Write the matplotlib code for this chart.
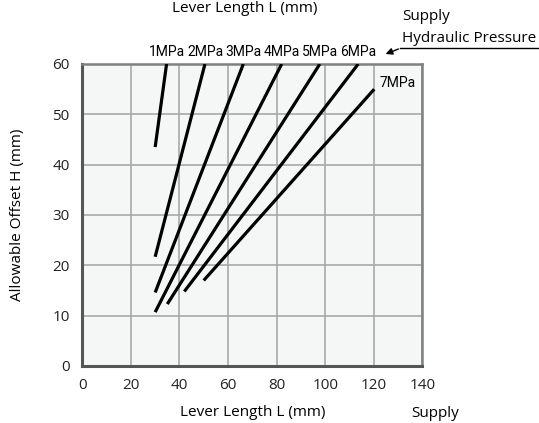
import matplotlib
matplotlib.use("Agg")
import matplotlib.pyplot as plt

plt.rcParams['font.family'] = ['Open Sans', 'DejaVu Sans']

# pressure lines: (L start, H start) -> (L end, H end)
labels = ["1MPa", "2MPa", "3MPa", "4MPa", "5MPa", "6MPa", "7MPa"]
L_start = [30, 30, 30, 30, 35, 42, 50]
H_start = [43.5, 21.7, 14.6, 10.7, 12.3, 14.8, 17.0]
L_end = [34.7, 50.5, 66.3, 82.1, 97.8, 113.6, 120.2]
H_end = [60, 60, 60, 60, 60, 60, 55]

x_ticks = [0, 20, 40, 60, 80, 100, 120, 140]
y_ticks = [0, 10, 20, 30, 40, 50, 60]

fig = plt.figure(figsize=(5.39, 4.23), dpi=100)
ax = fig.add_axes([0.1527, 0.1348, 0.6308, 0.7139])
ax.set_facecolor("#f5f7f7")

for i in range(len(labels)):
    ax.plot([L_start[i], L_end[i]], [H_start[i], H_end[i]], color="black",
            lw=2.3, solid_capstyle="butt", zorder=3)

narrow = ['Roboto', 'DejaVu Sans']
for i in range(6):
    ax.text(L_end[i], 62.4, labels[i], ha="center", va="center", fontsize=10,
            family=narrow, clip_on=False)
ax.text(122.5, 56.3, labels[6], ha="left", va="center", fontsize=10, family=narrow)

ax.set_xlim(0, 140)
ax.set_ylim(0, 60)
ax.set_xticks(x_ticks)
ax.set_yticks(y_ticks)
ax.tick_params(length=0, labelsize=11, colors="#222222")
ax.tick_params(axis="x", pad=9)
ax.tick_params(axis="y", pad=9)
ax.grid(True, color="#a8a8a8", lw=1.2)
ax.set_axisbelow(True)
for s in ["left", "bottom"]:
    ax.spines[s].set_color("#555555")
    ax.spines[s].set_linewidth(2.2)
for s in ["top", "right"]:
    ax.spines[s].set_color("#808080")
    ax.spines[s].set_linewidth(1.8)

ax.set_xlabel("Lever Length L (mm)", fontsize=11, labelpad=8)
ax.set_ylabel("Allowable Offset H (mm)", fontsize=11, labelpad=20)

# top title and side annotations
fig.text(245 / 539, 1 - 8 / 423, "Lever Length L (mm)", ha="center", va="center", fontsize=11)
fig.text(402 / 539, 1 - 16 / 423, "Supply", ha="left", va="center", fontsize=11)
fig.text(402 / 539, 1 - 38 / 423, "Hydraulic Pressure", ha="left", va="center", fontsize=11)
fig.text(411 / 539, 1 - 413 / 423, "Supply", ha="left", va="center", fontsize=11)

fig.add_artist(plt.Line2D([400 / 539, 1.0], [1 - 48 / 423, 1 - 48 / 423],
                          color="black", lw=1.0))
ax.annotate("", xy=(383 / 539, 1 - 55 / 423), xytext=(401 / 539, 1 - 48 / 423),
            xycoords="figure fraction", textcoords="figure fraction",
            arrowprops=dict(arrowstyle="-|>", color="black", lw=1.0, mutation_scale=10))

fig.savefig("out.png", dpi=100)
